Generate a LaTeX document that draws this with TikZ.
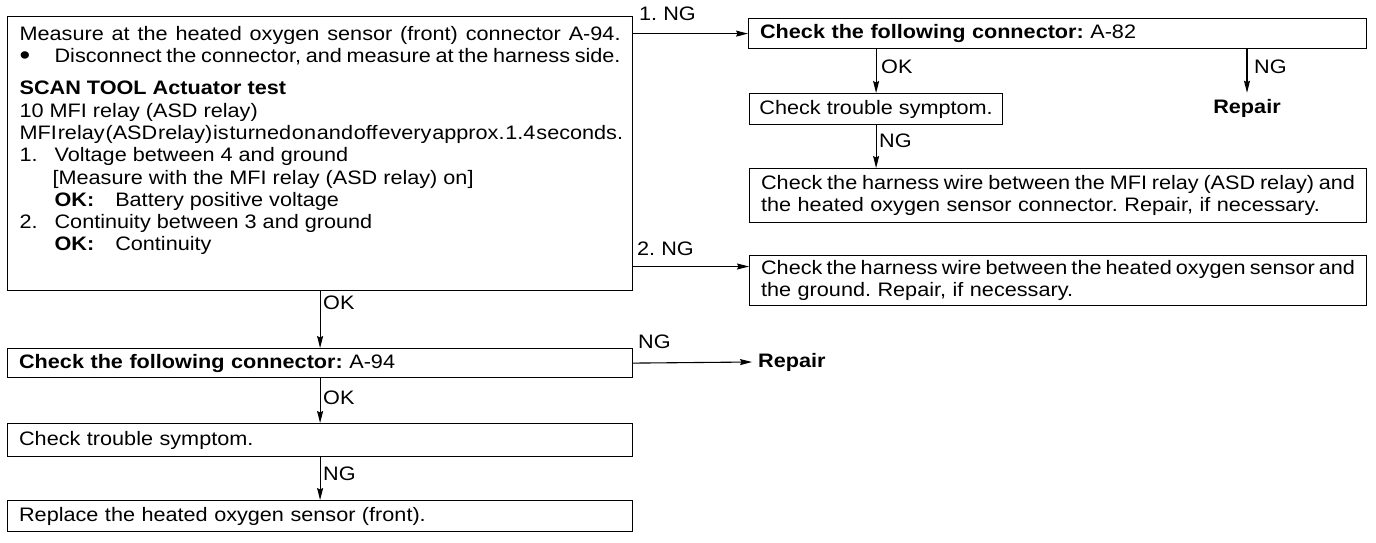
\documentclass[tikz,border=0pt]{standalone}
\usepackage{fontspec}
\setmainfont[FakeStretch=1.11]{Liberation Sans}
\usetikzlibrary{arrows.meta}
\frenchspacing
\newcommand{\fs}{\fontsize{19.5}{22.3}\selectfont\frenchspacing}
\newcommand{\fl}[1]{\makebox[\hsize][s]{\spaceskip=\fontdimen2\font plus 1fil minus 0.85\fontdimen2\font \xspaceskip=\spaceskip #1}}
\begin{document}
\begin{tikzpicture}[x=1pt,y=-1pt,
  every node/.style={font=\fs},
  box/.style={draw, line width=1.2pt, anchor=north west, inner xsep=11.5pt, inner ysep=0pt, align=left},
  conn/.style={line width=1.1pt, -{Stealth[length=12pt,width=6pt,inset=1.5pt]}},
  lbl/.style={anchor=west, inner sep=0pt},
  rep/.style={font=\fs\bfseries, inner sep=6pt}]
\useasboundingbox (0,0) rectangle (1376,542);
% main box
\node[box, inner ysep=9.5pt, inner xsep=12pt] (m) at (7,16) {\parbox[t][255pt][t]{601pt}{%
\fl{Measure at the heated oxygen sensor (front) connector A-94.}\\
\fl{\makebox[35pt][l]{\raisebox{-0.15ex}{\scalebox{1.4}{\textbullet}}}Disconnect the connector, and measure at the harness side.}\\[10pt]
\textbf{SCAN TOOL Actuator test}\\
10 MFI relay (ASD relay)\\
\fl{MFI relay (ASD relay) is turned on and off every approx. 1.4 seconds.}\\
\makebox[35pt][l]{1.}Voltage between 4 and ground\\
\hspace*{33pt}[Measure with the MFI relay (ASD relay) on]\\
\hspace*{35pt}\textbf{OK:}\hspace{21pt}Battery positive voltage\\
\makebox[35pt][l]{2.}Continuity between 3 and ground\\
\hspace*{35pt}\textbf{OK:}\hspace{21pt}Continuity}};
% right column
\node[box, minimum height=30pt, text width=595pt] (a82) at (748,18) {\textbf{Check the following connector:} A-82};
\node[box, minimum height=31pt, minimum width=253pt, inner xsep=8pt] (cts1) at (749,93) {Check trouble symptom.};
\node[rep] (r1) at (1247,108) {Repair};
\node[box, minimum height=54pt, text width=594pt] (h1) at (749,168) {\fl{Check the harness wire between the MFI relay (ASD relay) and}\\the heated oxygen sensor connector. Repair, if necessary.};
\node[box, minimum height=50pt, text width=594pt] (gnd) at (749,255) {\fl{Check the harness wire between the heated oxygen sensor and}\\the ground. Repair, if necessary.};
\coordinate (g2) at (749,266.5);
% left column
\node[box, minimum height=29pt, text width=602pt] (a94) at (7,348) {\textbf{Check the following connector:} A-94};
\node[rep, anchor=west] (r2) at (752,362) {Repair};
\node[box, minimum height=33pt, text width=602pt] (cts2) at (7,423) {Check trouble symptom.};
\node[box, minimum height=31pt, text width=602pt] (rpl) at (7,500) {Replace the heated oxygen sensor (front).};
% connectors
\draw[conn] (m.east |- a82.west) -- (a82.west);
\node[lbl] (l1) at (639,14) {1. NG};
\draw[conn] (cts1.north |- a82.south) -- (cts1.north);
\node[lbl] (l2) at (881,67) {OK};
\draw[conn] (r1.north |- a82.south) -- (r1.north);
\node[lbl] (l3) at (1254,67) {NG};
\draw[conn] (cts1.south) -- (cts1.south |- h1.north);
\node[lbl] (l4) at (879,141) {NG};
\draw[conn] (m.east |- g2) -- (g2);
\node[lbl] (l5) at (637,249) {2. NG};
\draw[conn] (m.south) -- (a94.north);
\node[lbl] (l6) at (323,303) {OK};
\draw[conn] (a94.east) -- (r2.west);
\node[lbl] (l7) at (638,342) {NG};
\draw[conn] (a94.south) -- (cts2.north);
\node[lbl] (l8) at (323,398) {OK};
\draw[conn] (cts2.south) -- (rpl.north);
\node[lbl] (l9) at (323,474) {NG};
\end{tikzpicture}
\end{document}
